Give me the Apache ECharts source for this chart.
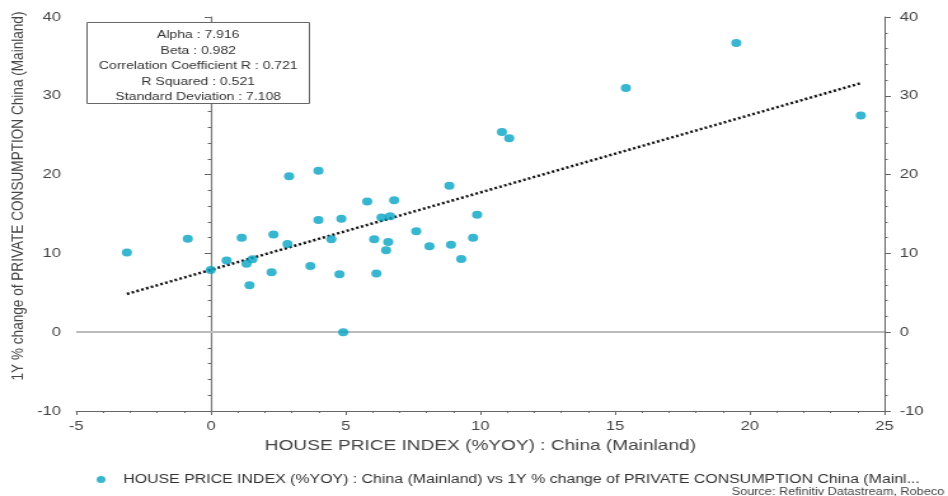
<!DOCTYPE html>
<html>
<head>
<meta charset="utf-8">
<script src="https://cdn.jsdelivr.net/npm/echarts@6/dist/echarts.min.js"></script>
<style>
  html, body { margin: 0; padding: 0; background: #fff; overflow: hidden; }
  #wrap { width: 948px; height: 496px; overflow: hidden; }
  /* the chart is laid out narrower and widened to the full frame */
  #chart { width: 746px; height: 496px; transform: scaleX(1.2708); transform-origin: 0 0; }
</style>
</head>
<body>
<div id="wrap"><div id="chart"></div></div>
<script>
// House price growth (%YOY) vs 1Y % change of private consumption, China (Mainland)
const housePriceYoY = [
  -3.12, -0.86, -0.01, 0.58, 1.14, 1.32, 1.54, 1.43, 2.25, 2.32,
  2.84, 2.90, 3.69, 3.99, 3.99, 4.47, 4.77, 4.84, 4.91, 5.80,
  6.06, 6.14, 6.33, 6.50, 6.58, 6.65, 6.80, 7.62, 8.11, 8.85,
  8.91, 9.29, 9.73, 9.88, 10.80, 11.07, 15.40, 19.50, 24.12
];
const consumptionYoY = [
  10.1, 11.85, 7.9, 9.1, 12.0, 8.7, 9.25, 5.95, 7.6, 12.4,
  11.2, 19.8, 8.4, 20.5, 14.25, 11.8, 7.35, 14.4, 0.0, 16.6,
  11.8, 7.45, 14.55, 10.4, 11.45, 14.7, 16.75, 12.8, 10.9, 18.6,
  11.1, 9.3, 12.0, 14.9, 25.4, 24.6, 31.0, 36.7, 27.5
];

// Regression statistics
const alpha = 7.916;
const beta = 0.982;
const statLines = [
  'Alpha : 7.916',
  'Beta : 0.982',
  'Correlation Coefficient R : 0.721',
  'R Squared : 0.521',
  'Standard Deviation : 7.108'
];

const xTitle = 'HOUSE PRICE INDEX (%YOY) : China (Mainland)';
const yTitle = '1Y % change of PRIVATE CONSUMPTION China (Mainland)';
const seriesName = 'HOUSE PRICE INDEX (%YOY) : China (Mainland) vs 1Y % change of PRIVATE CONSUMPTION China (Mainland)';
const sourceText = 'Source: Refinitiv Datastream, Robeco';

const points = housePriceYoY.map((x, i) => [x, consumptionYoY[i]]);
const xLo = Math.min(...housePriceYoY);
const xHi = Math.max(...housePriceYoY);
const trend = [[xLo, alpha + beta * xLo], [xHi, alpha + beta * xHi]];

const FONT = 'Liberation Sans, Arial, sans-serif';
const axisText = { color: '#444', fontSize: 13, fontFamily: FONT };

const yAxisBase = {
  type: 'value', min: -10, max: 40, interval: 10,
  splitLine: { show: false },
  axisLine: { show: true, lineStyle: { color: '#666', width: 1 } },
  axisTick: { show: true, length: 5, lineStyle: { color: '#666' } },
  minorTick: { show: true, splitNumber: 5, length: 2.5, lineStyle: { color: '#666' } },
  axisLabel: Object.assign({ margin: 12 }, axisText)
};

const chart = echarts.init(document.getElementById('chart'), null, { renderer: 'canvas' });
chart.setOption({
  backgroundColor: '#fff',
  animation: false,
  grid: { left: 60, right: 50, top: 17, bottom: 85, containLabel: false, outerBoundsMode: 'none' },
  xAxis: {
    type: 'value', min: -5, max: 25, interval: 5,
    splitLine: { show: false },
    axisLine: { show: true, onZero: false, lineStyle: { color: '#666', width: 1 } },
    axisTick: { show: true, length: 4, lineStyle: { color: '#666' } },
    minorTick: { show: true, splitNumber: 5, length: 2, lineStyle: { color: '#666' } },
    axisLabel: Object.assign({ margin: 9 }, axisText),
    name: xTitle, nameLocation: 'middle', nameGap: 21,
    nameTextStyle: { color: '#444', fontSize: 15, fontFamily: FONT }
  },
  yAxis: [
    Object.assign({}, yAxisBase, { position: 'left' }),
    Object.assign({}, yAxisBase, { position: 'right' })
  ],
  legend: {
    left: 71, top: 468,
    icon: 'circle', itemWidth: 7, itemHeight: 8, itemGap: 10,
    data: [seriesName],
    textStyle: { color: '#333', fontSize: 12.5, fontFamily: FONT, width: 629, overflow: 'truncate', ellipsis: '...', padding: [0, 0, 0, 9] }
  },
  series: [
    {
      name: seriesName,
      type: 'scatter',
      data: points,
      symbol: 'circle',
      symbolSize: [8, 8],
      itemStyle: { color: '#06a4c3' },
      z: 5,
      markLine: {
        silent: true,
        symbol: 'none',
        label: { show: false },
        data: [
          { xAxis: 0, lineStyle: { color: '#777', width: 1.2, type: 'solid' } },
          { yAxis: 0, lineStyle: { color: '#bbb', width: 2, type: 'solid' } }
        ]
      }
    },
    {
      name: 'trend',
      type: 'line',
      data: trend,
      showSymbol: false,
      symbol: 'none',
      lineStyle: { color: '#111', width: 2.5, type: [2, 2] },
      z: 4,
      silent: true
    }
  ],
  graphic: [
    {
      // vertical axis title, reading bottom to top
      type: 'text', x: 14.5, y: 196, rotation: Math.PI / 2,
      style: { text: yTitle, align: 'center', verticalAlign: 'middle',
               fill: '#444', fontSize: 13.6, fontFamily: FONT }
    },
    {
      type: 'group', left: 68, top: 22, z: 100,
      children: [
        { type: 'rect', shape: { x: 0, y: 0, width: 175, height: 81 },
          style: { fill: '#fff', stroke: '#666', lineWidth: 1 }, z: 100 },
        { type: 'text', x: 87.5, y: 5, z: 101,
          style: { text: statLines.join('\n'), align: 'center', verticalAlign: 'top',
                   fill: '#333', fontSize: 11, lineHeight: 15.5, fontFamily: FONT } }
      ]
    },
    {
      type: 'text', right: 3, top: 487,
      style: { text: sourceText, fill: '#444', fontSize: 10, fontFamily: FONT }
    }
  ]
});
</script>
</body>
</html>
